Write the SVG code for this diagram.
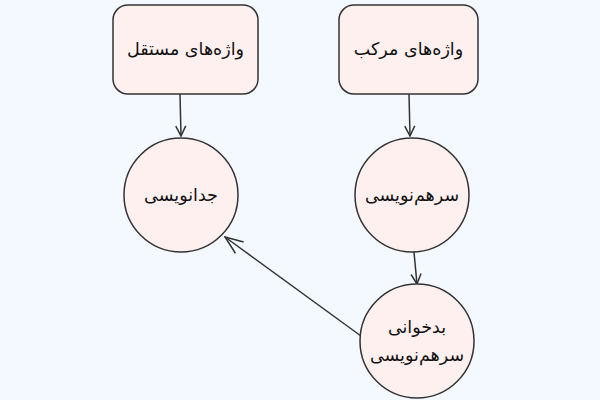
<svg xmlns="http://www.w3.org/2000/svg" width="600" height="400" viewBox="0 0 600 400">
<defs>
<style>
.n{fill:#fff0f0;stroke:#333;stroke-width:1.5}
.t{font-family:"DejaVu Sans",sans-serif;font-size:17.5px;fill:#111;text-anchor:middle;direction:rtl}
.e{stroke:#333;stroke-width:1.5;fill:none}
</style>
<marker id="a" viewBox="0 0 12 12" refX="11" refY="6" markerWidth="12" markerHeight="12" markerUnits="userSpaceOnUse" orient="auto">
<path d="M1,1 L11,6 L1,11" fill="none" stroke="#333" stroke-width="1.5"/>
</marker>
<marker id="b" viewBox="0 0 20 20" refX="19" refY="10" markerWidth="20" markerHeight="20" markerUnits="userSpaceOnUse" orient="auto">
<path d="M1,3 L19,10 L1,17" fill="none" stroke="#333" stroke-width="1.5"/>
</marker>
</defs>
<rect width="600" height="400" fill="#f4f9ff"/>
<g id="edges">
<path class="e" d="M180,94 L181,136" marker-end="url(#a)"/>
<path class="e" d="M409,94 L410,136" marker-end="url(#a)"/>
<path class="e" d="M414,252 L417,284" marker-end="url(#a)"/>
<path class="e" d="M361,336 L225,237" marker-end="url(#b)"/>
</g>
<g id="n1"><rect class="n" x="113" y="5" width="145" height="89" rx="15"/><text class="t" x="185.5" y="55">واژه‌های مستقل</text></g>
<g id="n2"><rect class="n" x="339" y="5" width="139" height="89" rx="15"/><text class="t" x="408.5" y="55">واژه‌های مرکب</text></g>
<g id="n3"><circle class="n" cx="181" cy="195" r="57"/><text class="t" x="181" y="201">جدانویسی</text></g>
<g id="n4"><circle class="n" cx="412" cy="195" r="57"/><text class="t" x="412" y="201">سرهم‌نویسی</text></g>
<g id="n5"><circle class="n" cx="417" cy="341" r="57"/><text class="t" x="417" y="333">بدخوانی</text><text class="t" x="417" y="361">سرهم‌نویسی</text></g>
</svg>
